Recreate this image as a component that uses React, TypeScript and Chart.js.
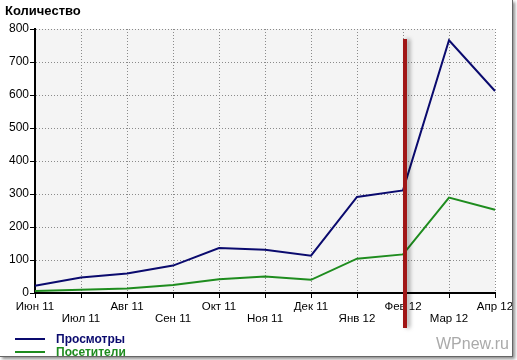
import React, { useEffect, useRef } from "react";
import { Chart, registerables } from "chart.js";

Chart.register(...registerables);

const months = ["Июн 11", "Июл 11", "Авг 11", "Сен 11", "Окт 11", "Ноя 11", "Дек 11", "Янв 12", "Фев 12", "Мар 12", "Апр 12"];
const views = [22, 47, 59, 83, 136, 131, 113, 291, 311, 766, 612];
const visitors = [6, 10, 14, 24, 42, 50, 40, 104, 117, 289, 252];
const seriesNames = ["Просмотры", "Посетители"];
const seriesColors = ["#0a0a6e", "#1e8c1e"];
const yMin = 0;
const yMax = 800;
const yStep = 100;
const titleText = "Количество";
const markerCategory = "Фев 12";
const markerTopValue = 770;
const watermark = "WPnew.ru";

const FONT = "'Liberation Sans', Arial, sans-serif";

const decorPlugin = {
  id: "decor",
  beforeDraw(chart: any) {
    const { ctx, chartArea } = chart;
    ctx.save();
    ctx.fillStyle = "#f4f4f4";
    ctx.fillRect(chartArea.left, chartArea.top, chartArea.right - chartArea.left, chartArea.bottom - chartArea.top);
    ctx.restore();
  },
  afterDraw(chart: any) {
    const { ctx, chartArea, scales } = chart;
    const xs = scales.x;
    const ys = scales.y;
    // marker line
    const idx = months.indexOf(markerCategory);
    const mx = xs.getPixelForValue(idx) + 2;
    ctx.save();
    ctx.shadowColor = "rgba(0,0,0,0.35)";
    ctx.shadowBlur = 4;
    ctx.shadowOffsetX = 3;
    ctx.shadowOffsetY = 0;
    ctx.strokeStyle = "#a01616";
    ctx.lineWidth = 4;
    ctx.beginPath();
    ctx.moveTo(mx, ys.getPixelForValue(markerTopValue));
    ctx.lineTo(mx, chartArea.bottom + 35);
    ctx.stroke();
    ctx.restore();

    // title
    ctx.save();
    ctx.fillStyle = "#000";
    ctx.font = `bold 13px ${FONT}`;
    ctx.textBaseline = "alphabetic";
    ctx.fillText(titleText, 5, 15);
    ctx.restore();

    // legend
    ctx.save();
    chart.data.datasets.forEach((ds: any, i: number) => {
      const y = 339 + i * 13;
      ctx.strokeStyle = ds.borderColor;
      ctx.lineWidth = 2;
      ctx.beginPath();
      ctx.moveTo(15, y);
      ctx.lineTo(45, y);
      ctx.stroke();
      ctx.fillStyle = ds.borderColor;
      ctx.font = `bold 12px ${FONT}`;
      ctx.textBaseline = "middle";
      ctx.fillText(ds.label, 56, y + 1);
    });
    ctx.restore();

    // watermark
    ctx.save();
    ctx.fillStyle = "#aaaaaa";
    ctx.font = `16px ${FONT}`;
    ctx.textBaseline = "alphabetic";
    ctx.fillText(watermark, 436, 349);
    ctx.restore();
  },
};

export default function App() {
  const ref = useRef<HTMLCanvasElement | null>(null);

  useEffect(() => {
    document.body.style.margin = "0";
    const canvas = ref.current!;
    const chart = new Chart(canvas, {
      type: "line",
      data: {
        labels: months,
        datasets: [
          { label: seriesNames[0], data: views, borderColor: seriesColors[0], backgroundColor: seriesColors[0] },
          { label: seriesNames[1], data: visitors, borderColor: seriesColors[1], backgroundColor: seriesColors[1] },
        ],
      },
      options: {
        responsive: false,
        animation: false,
        events: [],
        layout: { padding: { top: 29, left: 5, right: 17, bottom: 0 } },
        plugins: {
          legend: { display: false },
          title: { display: false },
          tooltip: { enabled: false },
        },
        elements: {
          point: { radius: 0 },
          line: { borderWidth: 2, tension: 0 },
        },
        scales: {
          x: {
            type: "category",
            offset: false,
            grid: {
              color: "#8a8a8a",
              lineWidth: 1,
              tickColor: "#000",
              tickLength: 5,
              tickWidth: 1,
              tickBorderDash: [],
            },
            border: { color: "#000", width: 2, dash: [1, 2] },
            ticks: {
              autoSkip: false,
              maxRotation: 0,
              minRotation: 0,
              color: "#000",
              padding: 3,
              font: { family: FONT, size: 11.5, lineHeight: 1.05 },
              callback: (_v: any, i: number) => (i % 2 ? ["", months[i]] : months[i]),
            },
            afterFit: (s: any) => {
              s.height = 63;
              s.paddingLeft = 0;
              s.paddingRight = 0;
            },
          },
          y: {
            min: yMin,
            max: yMax,
            grid: {
              color: "#8a8a8a",
              lineWidth: 1,
              tickColor: "#000",
              tickLength: 5,
              tickWidth: 1,
              tickBorderDash: [],
            },
            border: { color: "#000", width: 2, dash: [1, 2] },
            ticks: {
              stepSize: yStep,
              color: "#000",
              padding: 1,
              font: { family: FONT, size: 12 },
            },
            afterFit: (s: any) => {
              s.width = 30;
              s.paddingTop = 0;
              s.paddingBottom = 0;
            },
          },
        },
      },
      plugins: [decorPlugin],
    });
    return () => chart.destroy();
  }, []);

  return (
    <div style={{ position: "fixed", left: 0, top: 0, width: 517, height: 360, background: "#fff" }}>
      <div
        style={{
          position: "absolute",
          left: 0,
          top: 0,
          width: 512,
          height: 356,
          background: "#fff",
          borderRight: "1px solid #666",
          borderBottom: "1px solid #666",
          boxShadow: "2px 2px 3px rgba(0,0,0,0.45)",
          overflow: "hidden",
        }}
      >
        <canvas ref={ref} width={512} height={356} style={{ display: "block", width: 512, height: 356 }} />
      </div>
    </div>
  );
}
